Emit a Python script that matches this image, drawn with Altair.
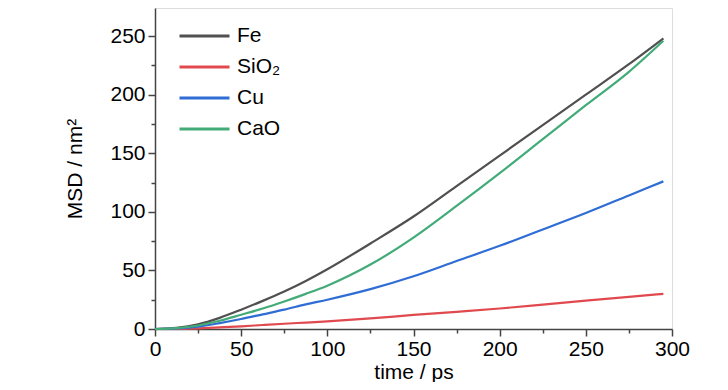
import altair as alt
import pandas as pd

time_ps = [0, 12.5, 25, 37.5, 50, 62.5, 75, 87.5, 100, 125, 150, 175, 200, 225, 250, 275, 295]
fe = [0, 1, 4, 9.5, 16.5, 24, 32, 41, 51, 73, 96, 122, 148, 174, 200, 226, 248]
sio2 = [0, 0.1, 0.6, 1.4, 2.3, 3.4, 4.5, 5.5, 6.5, 9, 12, 14.7, 17.5, 20.8, 24.2, 27.5, 30]
cu = [0, 0.5, 2, 5, 8.5, 12.5, 16.5, 21, 25, 34, 45, 58, 71, 85, 99, 114, 126]
cao = [0, 0.8, 3, 7, 12.2, 17.5, 23.5, 30, 37, 55, 78, 105, 133, 162, 191, 219.5, 246]

series = ["Fe", "SiO\u2082", "Cu", "CaO"]
colors = ["#505050", "#e04a4f", "#2f6dd5", "#43ab78"]

rows = []
for name, vals in zip(series, [fe, sio2, cu, cao]):
    for t, v in zip(time_ps, vals):
        rows.append({"time": t, "msd": v, "material": name})
df = pd.DataFrame(rows)

FONT = "Liberation Sans"
axis_color = "#444444"

def make_axis(title_pad, label_pad):
    return dict(
        labelExpr="datum.value % 50 === 0 ? datum.label : ''",
        tickSize={"expr": "datum.value % 50 === 0 ? 7 : 4"},
        grid=False, labelFont=FONT, labelFontSize=21, titleFont=FONT,
        titleFontSize=21, titleFontWeight="normal", titleColor="black",
        labelColor="black", domainColor=axis_color, tickColor=axis_color,
        domainWidth=1.5, tickWidth=1.5, labelPadding=label_pad, titlePadding=title_pad,
        labelFlush=False)

chart = alt.Chart(df).mark_line(strokeWidth=2.2, interpolate="monotone").encode(
    x=alt.X("time:Q", title="time / ps",
            scale=alt.Scale(domain=[0, 300], nice=False),
            axis=alt.Axis(values=list(range(0, 301, 25)), **make_axis(2, 2))),
    y=alt.Y("msd:Q", title="MSD / nm\u00b2",
            scale=alt.Scale(domain=[0, 274], nice=False),
            axis=alt.Axis(values=list(range(0, 251, 25)), **make_axis(24, 3))),
    color=alt.Color("material:N", sort=series,
                    scale=alt.Scale(domain=series, range=colors),
                    legend=alt.Legend(title=None, orient="none", legendX=23, legendY=17,
                                      symbolType="stroke", symbolSize=2500,
                                      symbolStrokeWidth=3, labelFont=FONT,
                                      labelFontSize=21, labelColor="black",
                                      labelOffset=6, clipHeight=22, rowPadding=9)),
).properties(
    width=517, height=321,
    autosize=alt.AutoSizeParams(type="none"),
    padding={"left": 147, "top": 0, "right": 48, "bottom": 53},
).configure_view(stroke=axis_color, strokeWidth=1.5).configure(background="white")

chart.save("out.html", embed_options={"renderer": "svg", "actions": False})
